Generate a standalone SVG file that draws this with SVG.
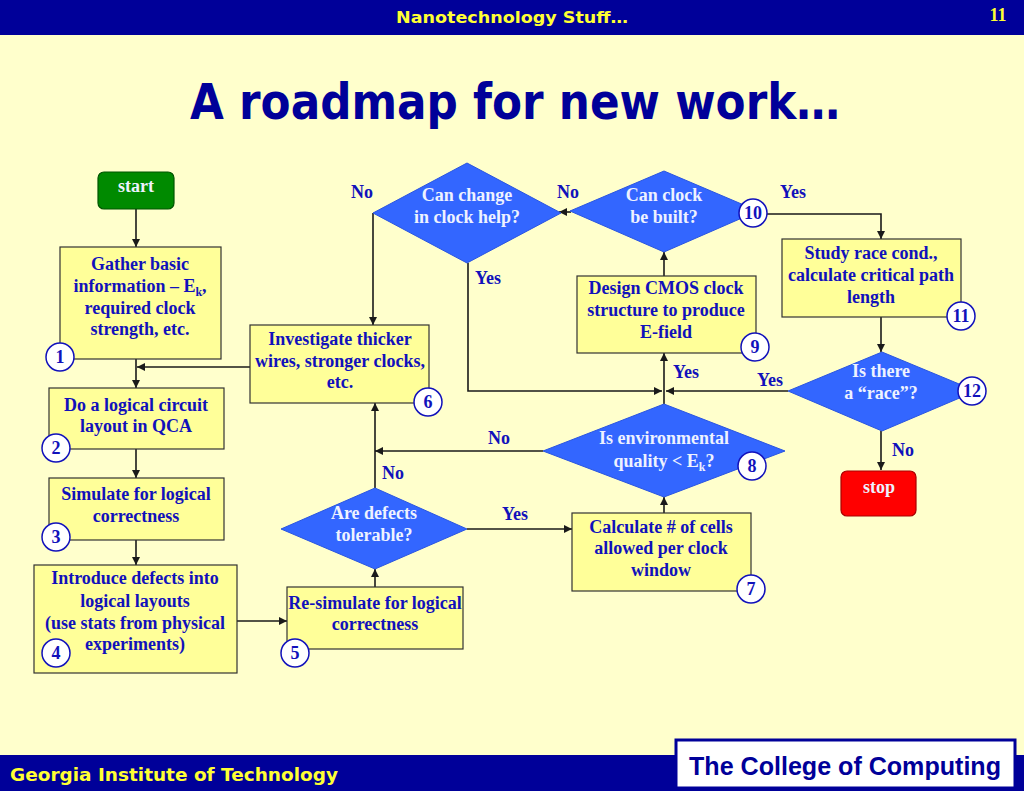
<svg xmlns="http://www.w3.org/2000/svg" width="1024" height="791" viewBox="0 0 1024 791">
<defs>
<marker id="arr" viewBox="0 0 10 10" refX="10" refY="5" markerWidth="9" markerHeight="8" markerUnits="userSpaceOnUse" orient="auto">
<path d="M0,0 L10,5 L0,10 z" fill="#1a1a1a"/>
</marker>
<style>
.box{fill:#FFFF99;stroke:#333;stroke-width:1.2}
.dia{fill:#3366FF;stroke:#2a55e0;stroke-width:1}
.t{font-family:"Liberation Serif","Times New Roman",serif;font-weight:bold;font-size:18px;fill:#1111BB;text-anchor:middle}
.tw{font-family:"Liberation Serif","Times New Roman",serif;font-weight:bold;font-size:18px;fill:#EEF2FF;text-anchor:middle}
.lbl{font-family:"Liberation Serif","Times New Roman",serif;font-weight:bold;font-size:18px;fill:#1111BB;text-anchor:middle}
.num{fill:#fff;stroke:#1111BB;stroke-width:1.5}
.nt{font-family:"Liberation Serif","Times New Roman",serif;font-weight:bold;font-size:18px;fill:#1111BB;text-anchor:middle}
.c{fill:none;stroke:#1a1a1a;stroke-width:1.6}
.comic{font-family:"DejaVu Sans",sans-serif;font-weight:bold}
.bar{fill:#000099}
</style>
</defs>
<rect x="0" y="0" width="1024" height="791" fill="#FFFFCC"/>
<g id="header">
<rect class="bar" x="0" y="0" width="1024" height="35"/>
<text x="512" y="23" class="comic" font-size="16" fill="#FFFF33" text-anchor="middle" textLength="232" lengthAdjust="spacingAndGlyphs">Nanotechnology Stuff…</text>
<text x="998" y="21" font-family="Liberation Serif,serif" font-weight="bold" font-size="18" fill="#FFFF33" text-anchor="middle">11</text>
</g>
<g id="title">
<text x="515" y="119" class="comic" font-size="49" fill="#000099" text-anchor="middle" textLength="650" lengthAdjust="spacingAndGlyphs">A roadmap for new work…</text>
</g>
<g id="footer">
<rect class="bar" x="0" y="755" width="677" height="36"/>
<rect class="bar" x="1013" y="755" width="11" height="36"/>
<rect class="bar" x="676" y="788" width="339" height="3"/>
<text x="10" y="781" class="comic" font-size="17" fill="#FFFF33" textLength="328" lengthAdjust="spacingAndGlyphs">Georgia Institute of Technology</text>
<rect x="676" y="740" width="339" height="48" fill="#ffffff" stroke="#000099" stroke-width="3"/>
<text x="845" y="775" font-family="Liberation Sans,Arial,sans-serif" font-weight="bold" font-size="25" fill="#000099" text-anchor="middle" textLength="312" lengthAdjust="spacingAndGlyphs">The College of Computing</text>
</g>
<g id="connectors">
<path class="c" d="M136,209 V247" marker-end="url(#arr)"/>
<path class="c" d="M136,359 V388" marker-end="url(#arr)"/>
<path class="c" d="M250,367 H137" marker-end="url(#arr)"/>
<path class="c" d="M136,449 V478" marker-end="url(#arr)"/>
<path class="c" d="M136,540 V565" marker-end="url(#arr)"/>
<path class="c" d="M237,621 H287" marker-end="url(#arr)"/>
<path class="c" d="M375,587 V569" marker-end="url(#arr)"/>
<path class="c" d="M375,488 V403" marker-end="url(#arr)"/>
<path class="c" d="M467,529 H572" marker-end="url(#arr)"/>
<path class="c" d="M664,513 V497" marker-end="url(#arr)"/>
<path class="c" d="M543,451 H375" marker-end="url(#arr)"/>
<path class="c" d="M664,404 V353" marker-end="url(#arr)"/>
<path class="c" d="M664,276 V252" marker-end="url(#arr)"/>
<path class="c" d="M571,212 H559" marker-end="url(#arr)"/>
<path class="c" d="M767,214 H881 V239" marker-end="url(#arr)"/>
<path class="c" d="M881,317 V352" marker-end="url(#arr)"/>
<path class="c" d="M881,431 V470" marker-end="url(#arr)"/>
<path class="c" d="M788,391 H666" marker-end="url(#arr)"/>
<path class="c" d="M373,213 V325" marker-end="url(#arr)"/>
<path class="c" d="M468,263 V391 H662" marker-end="url(#arr)"/>
</g>
<g id="labels">
<text class="lbl" x="362" y="198">No</text>
<text class="lbl" x="568" y="198">No</text>
<text class="lbl" x="793" y="198">Yes</text>
<text class="lbl" x="488" y="284">Yes</text>
<text class="lbl" x="686" y="378">Yes</text>
<text class="lbl" x="770" y="386">Yes</text>
<text class="lbl" x="499" y="444">No</text>
<text class="lbl" x="393" y="479">No</text>
<text class="lbl" x="515" y="520">Yes</text>
<text class="lbl" x="903" y="456">No</text>
</g>
<g id="start">
<rect x="98" y="172" width="76" height="37" rx="6" fill="#008A00" stroke="#005500" stroke-width="1.2"/>
<text class="tw" x="136" y="192">start</text>
</g>
<g id="n1">
<rect class="box" x="60" y="247" width="161" height="112"/>
<text class="t" x="140" y="270">Gather basic</text>
<text class="t" x="140" y="292">information – E<tspan font-size="12" dy="4">k</tspan><tspan dy="-4">,</tspan></text>
<text class="t" x="140" y="314">required clock</text>
<text class="t" x="140" y="335">strength, etc.</text>
<circle class="num" cx="60" cy="357" r="14"/>
<text class="nt" x="60" y="363">1</text>
</g>
<g id="n2">
<rect class="box" x="49" y="388" width="175" height="61"/>
<text class="t" x="136" y="411">Do a logical circuit</text>
<text class="t" x="136" y="432">layout in QCA</text>
<circle class="num" cx="56" cy="448" r="14"/>
<text class="nt" x="56" y="454">2</text>
</g>
<g id="n3">
<rect class="box" x="49" y="478" width="175" height="62"/>
<text class="t" x="136" y="500">Simulate for logical</text>
<text class="t" x="136" y="522">correctness</text>
<circle class="num" cx="56" cy="537" r="14"/>
<text class="nt" x="56" y="543">3</text>
</g>
<g id="n4">
<rect class="box" x="34" y="565" width="203" height="108"/>
<text class="t" x="135" y="584">Introduce defects into</text>
<text class="t" x="135" y="607">logical layouts</text>
<text class="t" x="135" y="629">(use stats from physical</text>
<text class="t" x="135" y="650">experiments)</text>
<circle class="num" cx="56" cy="653" r="14"/>
<text class="nt" x="56" y="659">4</text>
</g>
<g id="n5">
<rect class="box" x="287" y="587" width="176" height="62"/>
<text class="t" x="375" y="609">Re-simulate for logical</text>
<text class="t" x="375" y="630">correctness</text>
<circle class="num" cx="295" cy="653" r="14"/>
<text class="nt" x="295" y="659">5</text>
</g>
<g id="defects">
<polygon class="dia" points="375,488 467,529 375,569 281,529"/>
<text class="tw" x="374" y="519">Are defects</text>
<text class="tw" x="374" y="541">tolerable?</text>
</g>
<g id="n6">
<rect class="box" x="250" y="325" width="179" height="78"/>
<text class="t" x="340" y="345">Investigate thicker</text>
<text class="t" x="340" y="367">wires, stronger clocks,</text>
<text class="t" x="340" y="388">etc.</text>
<circle class="num" cx="428" cy="402" r="14"/>
<text class="nt" x="428" y="408">6</text>
</g>
<g id="change">
<polygon class="dia" points="467,163 561,213 467,263 373,213"/>
<text class="tw" x="467" y="201">Can change</text>
<text class="tw" x="467" y="223">in clock help?</text>
</g>
<g id="built">
<polygon class="dia" points="664,171 758,211 664,252 570,211"/>
<text class="tw" x="664" y="201">Can clock</text>
<text class="tw" x="664" y="223">be built?</text>
<circle class="num" cx="753" cy="213" r="14"/>
<text class="nt" x="753" y="219">10</text>
</g>
<g id="n9">
<rect class="box" x="577" y="276" width="179" height="77"/>
<text class="t" x="666" y="294">Design CMOS clock</text>
<text class="t" x="666" y="316">structure to produce</text>
<text class="t" x="666" y="338">E-field</text>
<circle class="num" cx="755" cy="347" r="14"/>
<text class="nt" x="755" y="353">9</text>
</g>
<g id="n11">
<rect class="box" x="782" y="239" width="179" height="78"/>
<text class="t" x="871" y="259">Study race cond.,</text>
<text class="t" x="871" y="281">calculate critical path</text>
<text class="t" x="871" y="303">length</text>
<circle class="num" cx="961" cy="316" r="14"/>
<text class="nt" x="961" y="322">11</text>
</g>
<g id="race">
<polygon class="dia" points="882,352 976,391 882,431 788,391"/>
<text class="tw" x="881" y="377">Is there</text>
<text class="tw" x="881" y="399">a “race”?</text>
<circle class="num" cx="972" cy="391" r="14"/>
<text class="nt" x="972" y="397">12</text>
</g>
<g id="stop">
<rect x="841" y="471" width="75" height="45" rx="6" fill="#FF0000" stroke="#AA0000" stroke-width="1.2"/>
<text class="tw" x="879" y="493">stop</text>
</g>
<g id="env">
<polygon class="dia" points="664,404 785,451 664,497 543,451"/>
<text class="tw" x="664" y="444">Is environmental</text>
<text class="tw" x="664" y="467">quality &lt; E<tspan font-size="12" dy="4">k</tspan><tspan dy="-4">?</tspan></text>
<circle class="num" cx="752" cy="466" r="14"/>
<text class="nt" x="752" y="472">8</text>
</g>
<g id="n7">
<rect class="box" x="572" y="513" width="179" height="78"/>
<text class="t" x="661" y="533">Calculate # of cells</text>
<text class="t" x="661" y="554">allowed per clock</text>
<text class="t" x="661" y="576">window</text>
<circle class="num" cx="751" cy="589" r="14"/>
<text class="nt" x="751" y="595">7</text>
</g>
</svg>
